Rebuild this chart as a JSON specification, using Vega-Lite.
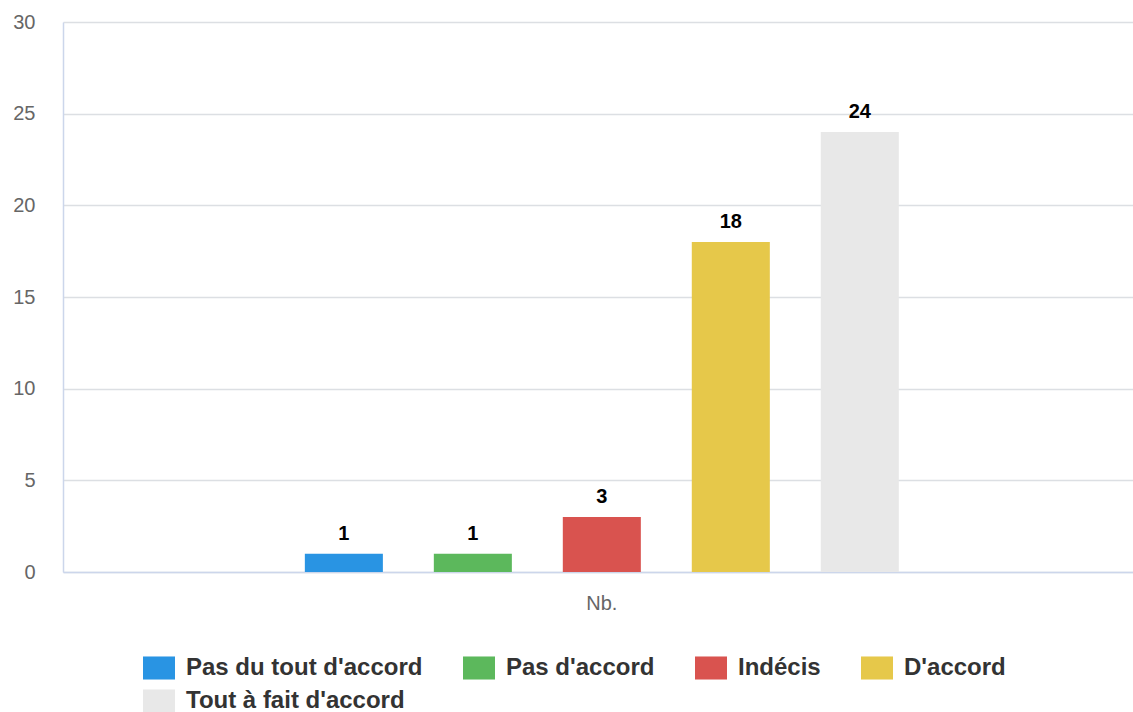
{
  "$schema": "https://vega.github.io/schema/vega-lite/v6.json",
  "width": 1070,
  "height": 550,
  "autosize": "none",
  "padding": {"left": 63, "top": 22, "right": 0, "bottom": 140},
  "background": "white",
  "config": {
    "view": {"stroke": null},
    "font": "Liberation Sans"
  },
  "data": {
    "values": [
      {"cat": "Nb.", "serie": "Pas du tout d'accord", "n": 1},
      {"cat": "Nb.", "serie": "Pas d'accord", "n": 1},
      {"cat": "Nb.", "serie": "Indécis", "n": 3},
      {"cat": "Nb.", "serie": "D'accord", "n": 18},
      {"cat": "Nb.", "serie": "Tout à fait d'accord", "n": 24}
    ]
  },
  "encoding": {
    "x": {
      "field": "cat",
      "type": "nominal",
      "title": null,
      "scale": {"paddingInner": 0, "paddingOuter": 0.3295, "align": 0.509},
      "axis": {
        "labelAngle": 0,
        "labelFontSize": 20,
        "labelColor": "#666666",
        "labelFont": "Liberation Sans",
        "labelPadding": 21,
        "ticks": false,
        "domain": true,
        "domainColor": "#ccd6eb",
        "domainWidth": 1.5
      }
    },
    "xOffset": {
      "field": "serie",
      "type": "nominal",
      "sort": ["Pas du tout d'accord", "Pas d'accord", "Indécis", "D'accord", "Tout à fait d'accord"],
      "scale": {"paddingInner": 0.395, "paddingOuter": 0.1977}
    },
    "y": {
      "field": "n",
      "type": "quantitative",
      "title": null,
      "scale": {"domain": [0, 30], "nice": false},
      "axis": {
        "values": [0, 5, 10, 15, 20, 25, 30],
        "labelFontSize": 20,
        "labelColor": "#666666",
        "labelFont": "Liberation Sans",
        "labelPadding": 28,
        "ticks": false,
        "domain": true,
        "domainColor": "#ccd6eb",
        "domainWidth": 1.5,
        "grid": true,
        "gridColor": "#dcdfe3",
        "gridWidth": 1.5
      }
    }
  },
  "layer": [
    {
      "mark": {"type": "bar"},
      "encoding": {
        "color": {
          "field": "serie",
          "type": "nominal",
          "sort": ["Pas du tout d'accord", "Pas d'accord", "Indécis", "D'accord", "Tout à fait d'accord"],
          "scale": {
            "domain": ["Pas du tout d'accord", "Pas d'accord", "Indécis", "D'accord", "Tout à fait d'accord"],
            "range": ["#2994e3", "#5cb85c", "#d9534f", "#e6c84a", "#e8e8e8"]
          },
          "legend": {
            "title": null,
            "orient": "none",
            "legendX": 80,
            "legendY": 630,
            "direction": "horizontal",
            "columns": 4,
            "columnPadding": 40,
            "rowPadding": 5,
            "symbolType": "M-1,-0.72H1V0.72H-1Z",
            "symbolSize": 1024,
            "symbolStrokeWidth": 0,
            "symbolOpacity": 1,
            "labelFontSize": 24,
            "labelFontWeight": "bold",
            "labelColor": "#333333",
            "labelFont": "Liberation Sans",
            "labelOffset": 11,
            "labelLimit": 400
          }
        }
      }
    },
    {
      "mark": {
        "type": "text",
        "baseline": "alphabetic",
        "dy": -14,
        "fontSize": 20,
        "fontWeight": "bold",
        "color": "#000000",
        "font": "Liberation Sans"
      },
      "encoding": {
        "text": {"field": "n", "type": "quantitative"}
      }
    }
  ]
}
